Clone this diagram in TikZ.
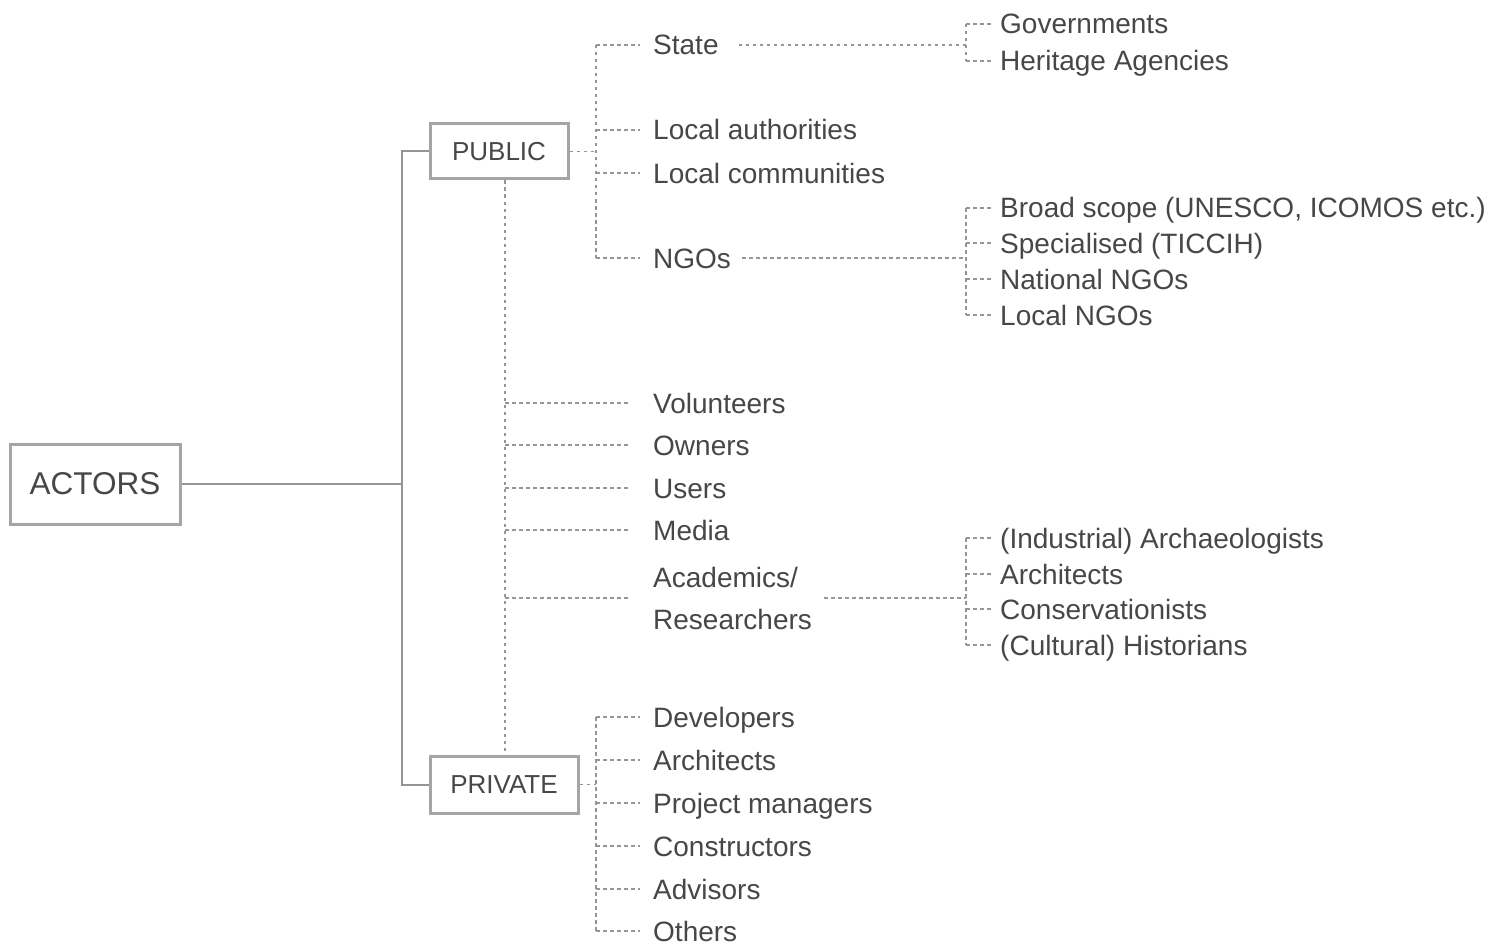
\documentclass[tikz,border=0pt]{standalone}
\usepackage{fontspec}
\setmainfont{Liberation Sans}
\definecolor{txt}{HTML}{474747}
\definecolor{linec}{HTML}{959595}
\definecolor{boxc}{HTML}{A5A5A5}
\begin{document}
\begin{tikzpicture}[x=1pt,y=-1pt,
  every node/.style={text=txt},
  lbl/.style={anchor=west, inner sep=0pt, text height=20pt, text depth=0pt, font=\fontsize{28}{32}\selectfont},
  box/.style={draw=boxc, line width=3pt, inner sep=0pt},
  sline/.style={draw=linec, line width=2pt},
  dline/.style={draw=linec, line width=1.8pt, dash pattern=on 3.5pt off 3.5pt}
]
\useasboundingbox[fill=white] (0,0) rectangle (1490,944);

% boxes
\node[box, minimum width=170, minimum height=80, font=\fontsize{31.5}{34}\selectfont] (actors) at (95,484) {ACTORS};
\node[box, minimum width=138, minimum height=55, font=\fontsize{26}{30}\selectfont] (public) at (499,151.5) {PUBLIC};
\node[box, minimum width=148, minimum height=57, font=\fontsize{26}{30}\selectfont] (private) at (504,784.5) {PRIVATE};

% helper coordinates for bars
\coordinate (trunk) at (402,0);
\coordinate (pubbar) at (596,0);
\coordinate (mid) at (505,0);
\coordinate (rbar) at (966,0);

% public branch labels
\node[lbl] (state) at (653,45) {State};
\node[lbl] (locauth) at (653,130) {Local authorities};
\node[lbl] (loccom) at (653,173) {Local communities};
\node[lbl] (ngos) at (653,258) {NGOs};

\node[lbl] (gov) at (1000,24) {Governments};
\node[lbl] (her) at (1000,61) {Heritage Agencies};

\node[lbl] (broad) at (1000,208) {Broad scope (UNESCO, ICOMOS etc.)};
\node[lbl] (spec) at (1000,243) {Specialised (TICCIH)};
\node[lbl] (natngo) at (1000,279) {National NGOs};
\node[lbl] (locngo) at (1000,315) {Local NGOs};

% middle labels
\node[lbl] (vol) at (653,403) {Volunteers};
\node[lbl] (own) at (653,445) {Owners};
\node[lbl] (users) at (653,488) {Users};
\node[lbl] (media) at (653,530) {Media};
\node[anchor=west, inner sep=0pt, align=left, font=\fontsize{28}{42}\selectfont] (acad) at (653,598) {Academics/\\Researchers};

\node[lbl] (arch1) at (1000,538) {(Industrial) Archaeologists};
\node[lbl] (arch2) at (1000,574) {Architects};
\node[lbl] (cons) at (1000,609) {Conservationists};
\node[lbl] (hist) at (1000,645) {(Cultural) Historians};

% private branch labels
\node[lbl] (dev) at (653,717) {Developers};
\node[lbl] (parch) at (653,760) {Architects};
\node[lbl] (pm) at (653,803) {Project managers};
\node[lbl] (constr) at (653,846) {Constructors};
\node[lbl] (adv) at (653,889) {Advisors};
\node[lbl] (oth) at (653,931) {Others};

% solid trunk
\draw[sline] (actors.east) -- (trunk |- actors.east);
\draw[sline] (public.west) -- (trunk |- public.west) -- (trunk |- private.west) -- (private.west);

% public branch
\draw[dline] (public.east) -- (pubbar |- public.east);
\draw[dline] (pubbar |- state.west) -- (pubbar |- ngos.west);
\foreach \n in {state,locauth,loccom,ngos}
  \draw[dline] (pubbar |- \n.west) -- ([xshift=-13pt]\n.west);

% state sub-bracket
\draw[dline] ([xshift=20pt]state.east) -- (rbar |- state.east);
\draw[dline] (rbar |- gov.west) -- (rbar |- her.west);
\foreach \n in {gov,her}
  \draw[dline] (rbar |- \n.west) -- ([xshift=-9pt]\n.west);

% NGO sub-bracket
\draw[dline] ([xshift=11pt]ngos.east) -- (rbar |- ngos.east);
\draw[dline] (rbar |- broad.west) -- (rbar |- locngo.west);
\foreach \n in {broad,spec,natngo,locngo}
  \draw[dline] (rbar |- \n.west) -- ([xshift=-9pt]\n.west);

% middle dotted connector
\draw[dline] (mid |- public.south) -- (mid |- private.north);
\foreach \n in {vol,own,users,media,acad}
  \draw[dline] (mid |- \n.west) -- ([xshift=-25pt]\n.west);

% academics sub-bracket
\draw[dline] ([xshift=12pt]acad.east) -- (rbar |- acad.east);
\draw[dline] (rbar |- arch1.west) -- (rbar |- hist.west);
\foreach \n in {arch1,arch2,cons,hist}
  \draw[dline] (rbar |- \n.west) -- ([xshift=-9pt]\n.west);

% private branch
\draw[dline] (private.east) -- (pubbar |- private.east);
\draw[dline] (pubbar |- dev.west) -- (pubbar |- oth.west);
\foreach \n in {dev,parch,pm,constr,adv,oth}
  \draw[dline] (pubbar |- \n.west) -- ([xshift=-13pt]\n.west);
\end{tikzpicture}
\end{document}
